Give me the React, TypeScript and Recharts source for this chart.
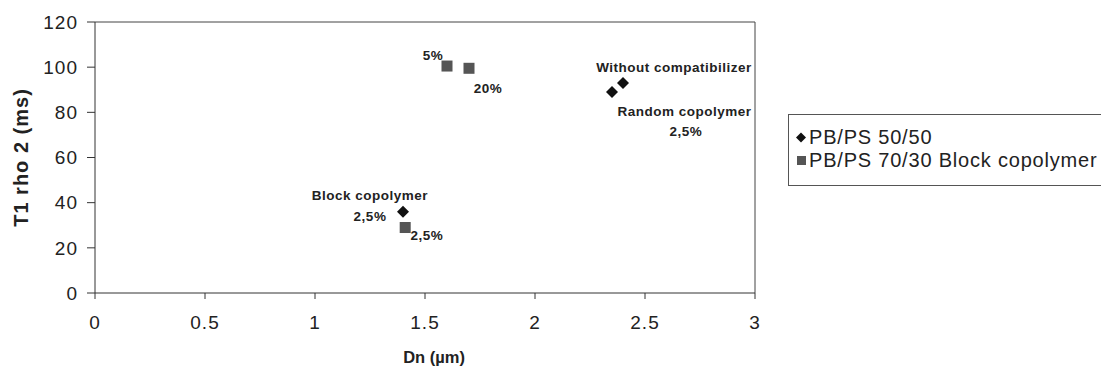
import React from "react";
import {
  ScatterChart,
  Scatter,
  XAxis,
  YAxis,
  ReferenceLine,
  ReferenceDot,
} from "recharts";

// PB/PS 50/50 (diamonds)
const blendDn = [1.4, 2.35, 2.4];
const blendT1 = [36, 89, 93];

// PB/PS 70/30 Block copolymer (squares)
const blockDn = [1.6, 1.7, 1.41];
const blockT1 = [100.5, 99.5, 29];

const xTicks = [0, 0.5, 1, 1.5, 2, 2.5, 3];
const yTicks = [0, 20, 40, 60, 80, 100, 120];

const seriesNames = ["PB/PS 50/50", "PB/PS 70/30 Block copolymer"];

// annotation text, anchored in data units
const notes = [
  { x: 1.536, y: 105.3, text: "5%" },
  { x: 1.786, y: 90.7, text: "20%" },
  { x: 2.632, y: 100, text: "Without compatibilizer" },
  { x: 2.68, y: 80.4, text: "Random copolymer" },
  { x: 2.686, y: 71.6, text: "2,5%" },
  { x: 1.25, y: 43.1, text: "Block copolymer" },
  { x: 1.25, y: 33.8, text: "2,5%" },
  { x: 1.509, y: 25.3, text: "2,5%" },
];

const blend = blendDn.map((x, i) => ({ x, y: blendT1[i] }));
const block = blockDn.map((x, i) => ({ x, y: blockT1[i] }));

const font = "Arial, 'Liberation Sans', sans-serif";

function Diamond(props: any) {
  const { cx, cy } = props;
  const r = 6;
  return (
    <polygon
      points={`${cx},${cy - r} ${cx + r},${cy} ${cx},${cy + r} ${cx - r},${cy}`}
      fill="#111"
    />
  );
}

function Square(props: any) {
  const { cx, cy } = props;
  const s = 11;
  return <rect x={cx - s / 2} y={cy - s / 2} width={s} height={s} fill="#555" />;
}

function NoteText(props: any) {
  const { viewBox, value } = props;
  const cx = viewBox.x + viewBox.width / 2;
  const cy = viewBox.y + viewBox.height / 2;
  return (
    <text
      x={cx}
      y={cy}
      textAnchor="middle"
      dominantBaseline="central"
      fontFamily={font}
      fontWeight="bold"
      fontSize={13.5}
      letterSpacing={0.5}
      fill="#222"
    >
      {value}
    </text>
  );
}

function LegendBox() {
  return (
    <div
      style={{
        position: "absolute",
        left: 788,
        top: 114,
        width: 340,
        height: 72,
        border: "1px solid #555",
        boxSizing: "border-box",
        padding: "11px 0 0 7px",
        fontFamily: font,
        fontSize: 20,
        letterSpacing: 0.8,
        color: "#222",
      }}
    >
      {seriesNames.map((name, i) => (
        <div key={name} style={{ display: "flex", alignItems: "center", height: 23 }}>
          <svg width={11} height={11} style={{ marginRight: 2 }}>
            {i === 0 ? (
              <polygon points="5,0.5 10,5.5 5,10.5 0,5.5" fill="#111" />
            ) : (
              <rect x={1} y={1} width={9} height={9} fill="#555" />
            )}
          </svg>
          <span>{name}</span>
        </div>
      ))}
    </div>
  );
}

export default function App() {
  return (
    <div
      style={{
        position: "absolute",
        left: 0,
        top: 0,
        width: 1101,
        height: 369,
        overflow: "hidden",
        background: "#fff",
      }}
    >
      <ScatterChart
        width={1101}
        height={369}
        margin={{ top: 22, right: 346, bottom: 3, left: 35 }}
      >
        <XAxis
          type="number"
          dataKey="x"
          domain={[0, 3]}
          ticks={xTicks}
          tickFormatter={(v) => String(v)}
          stroke="#333"
          tickSize={6}
          tickMargin={17}
          tick={{ fill: "#222", fontSize: 19, fontFamily: font, letterSpacing: 1 }}
          height={73}
          label={{
            value: "Dn (µm)",
            position: "insideBottom",
            offset: 3,
            dx: 9,
            fill: "#222",
            fontSize: 16.5,
            fontWeight: "bold",
            fontFamily: font,
          }}
        />
        <YAxis
          type="number"
          dataKey="y"
          domain={[0, 120]}
          ticks={yTicks}
          stroke="#333"
          tickSize={8}
          tickMargin={9}
          width={60}
          tick={{ fill: "#222", fontSize: 19, fontFamily: font, letterSpacing: 1 }}
          label={{
            value: "T1 rho 2 (ms)",
            angle: -90,
            position: "insideLeft",
            offset: -14,
            style: { textAnchor: "middle", letterSpacing: 1 },
            fill: "#222",
            fontSize: 20,
            fontWeight: "bold",
            fontFamily: font,
          }}
        />
        <ReferenceLine y={120} stroke="#444" />
        <ReferenceLine x={3} stroke="#444" />
        <Scatter
          name={seriesNames[0]}
          data={blend}
          shape={<Diamond />}
          isAnimationActive={false}
        />
        <Scatter
          name={seriesNames[1]}
          data={block}
          shape={<Square />}
          isAnimationActive={false}
        />
        {notes.map((n, i) => (
          <ReferenceDot
            key={i}
            x={n.x}
            y={n.y}
            r={0}
            stroke="none"
            fill="none"
            label={<NoteText value={n.text} />}
          />
        ))}
      </ScatterChart>
      <LegendBox />
    </div>
  );
}
